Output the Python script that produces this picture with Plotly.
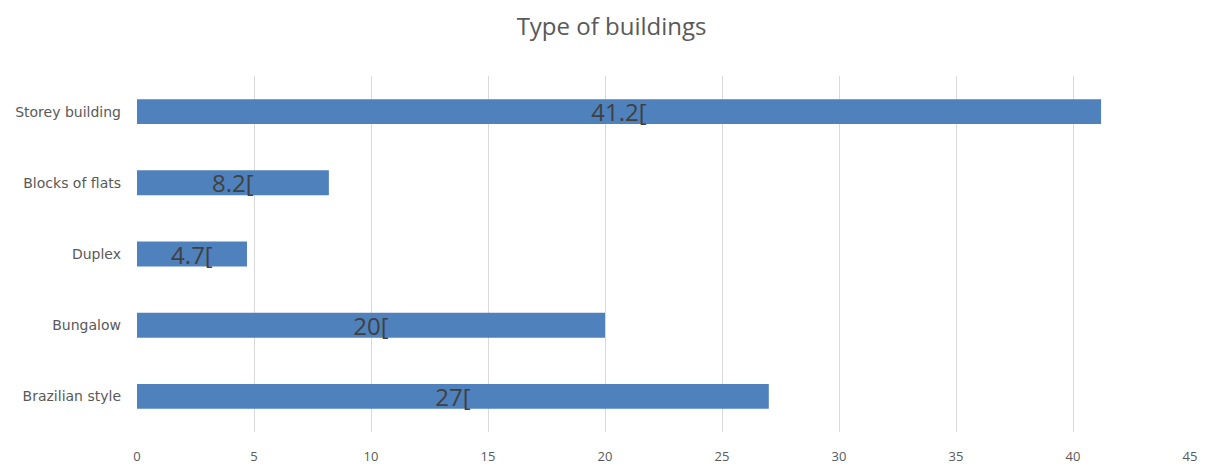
import plotly.graph_objects as go

categories = ["Brazilian style", "Bungalow", "Duplex", "Blocks of flats", "Storey building"]
values = [27, 20, 4.7, 8.2, 41.2]
bar_labels = ["27[", "20[", "4.7[", "8.2[", "41.2["]
x_ticks = [0, 5, 10, 15, 20, 25, 30, 35, 40, 45]

fig = go.Figure(
    go.Bar(
        y=categories,
        x=values,
        orientation="h",
        text=bar_labels,
        textposition="inside",
        insidetextanchor="middle",
        constraintext="none",
        textangle=0,
        textfont=dict(family="Open Sans", size=24, color="#404040"),
        marker=dict(color="#4F81BD", line=dict(width=0)),
        width=0.35,
        cliponaxis=False,
    )
)

fig.update_layout(
    width=1211,
    height=466,
    margin=dict(l=137, r=21, t=76, b=34),
    plot_bgcolor="white",
    paper_bgcolor="white",
    showlegend=False,
    title=dict(
        text="Type of buildings",
        x=0.505,
        xanchor="center",
        y=0.943,
        yanchor="middle",
        font=dict(family="Open Sans", size=24, color="#595959"),
    ),
    xaxis=dict(
        range=[0, 45],
        tickvals=x_ticks,
        showgrid=True,
        gridcolor="#d9d9d9",
        gridwidth=1,
        zeroline=False,
        showline=False,
        ticks="",
        automargin=False,
        tickfont=dict(family="Open Sans", size=13, color="#595959"),
        ticklabelstandoff=15,
    ),
    yaxis=dict(
        showgrid=False,
        zeroline=False,
        showline=False,
        ticks="",
        automargin=False,
        ticklabelstandoff=15,
        tickfont=dict(family="DejaVu Sans", size=14, color="#595959"),
    ),
)

fig.write_html("out.html")
